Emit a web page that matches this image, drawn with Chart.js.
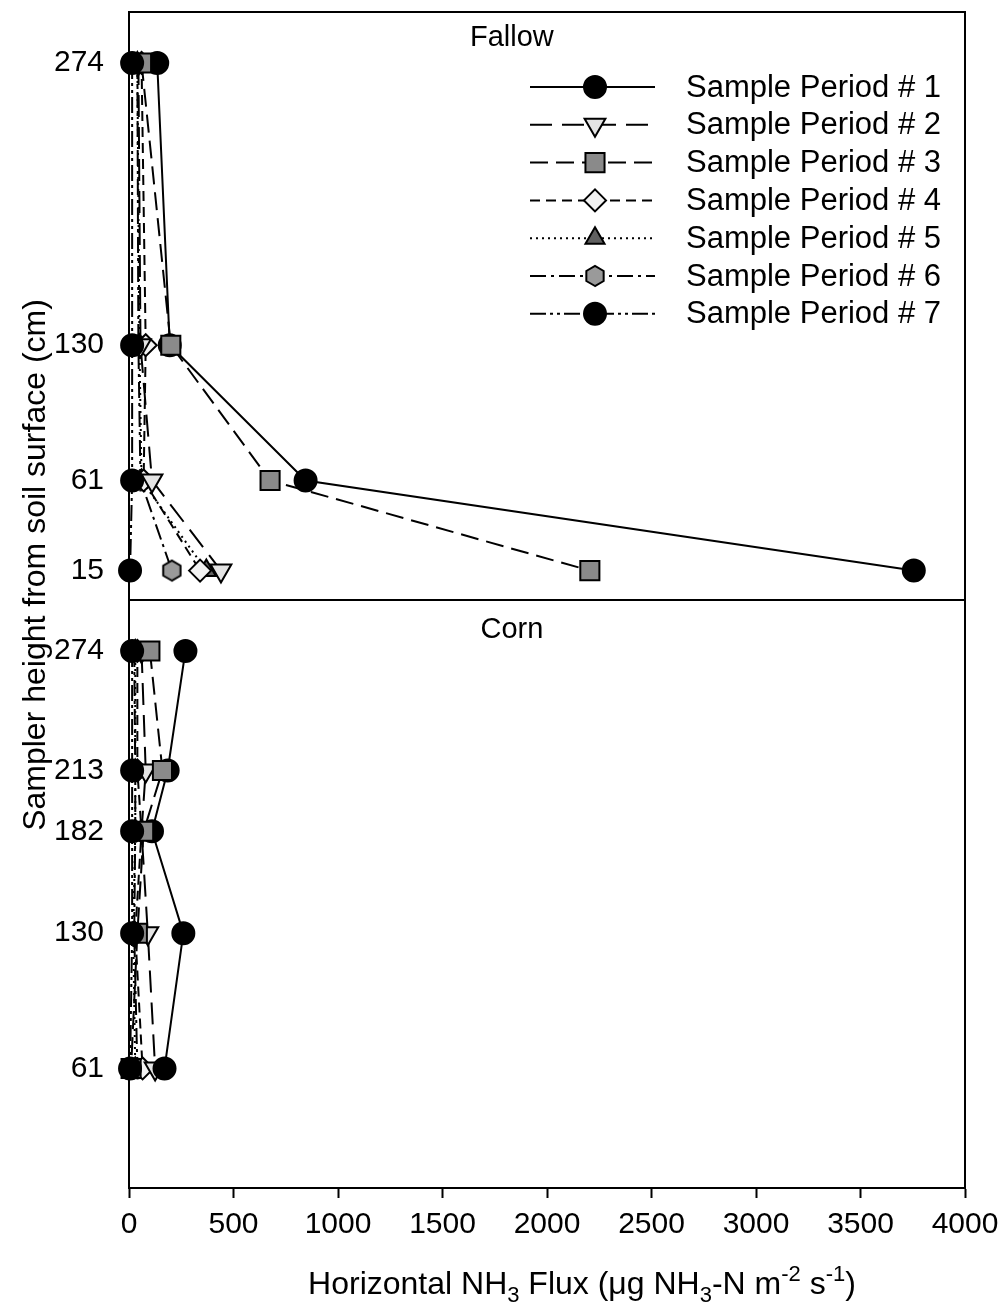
<!DOCTYPE html>
<html>
<head>
<meta charset="utf-8">
<title>Horizontal NH3 flux profiles</title>
<script src="https://cdn.jsdelivr.net/npm/chart.js@4.4.0/dist/chart.umd.min.js"></script>
<style>
    html, body { margin: 0; padding: 0; background: #fff; }
    canvas { display: block; }
</style>
</head>
<body>
<canvas id="grafico-flux" width="1003" height="1306"></canvas>
<script>
// Sampler heights (cm) for each site
const fallowHeights = [274, 130, 61, 15];
const cornHeights = [274, 213, 182, 130, 61];

// Horizontal NH3 flux, one array per sample period, same order as the heights
const fallowP1 = [135, 195, 845, 3755];
const fallowP2 = [45, 55, 110, 440];
const fallowP3 = [60, 200, 675, 2205];
const fallowP4 = [60, 80, 70, 340];
const fallowP5 = [40, 50, 60, 370];
const fallowP6 = [40, 45, 55, 205];
const fallowP7 = [15, 15, 15, 5];

const cornP1 = [270, 185, 110, 260, 170];
const cornP2 = [60, 80, 60, 90, 125];
const cornP3 = [100, 160, 70, 40, 10];
const cornP4 = [40, 40, 60, 30, 65];
const cornP5 = [30, 30, 30, 20, 30];
const cornP6 = [25, 30, 30, 25, 40];
const cornP7 = [15, 15, 15, 15, 5];

const periods = ['Sample Period # 1', 'Sample Period # 2', 'Sample Period # 3', 'Sample Period # 4',
                 'Sample Period # 5', 'Sample Period # 6', 'Sample Period # 7'];
const xTicks = [0, 500, 1000, 1500, 2000, 2500, 3000, 3500, 4000];

const fallowSeries = [fallowP1, fallowP2, fallowP3, fallowP4, fallowP5, fallowP6, fallowP7];
const cornSeries = [cornP1, cornP2, cornP3, cornP4, cornP5, cornP6, cornP7];

// Look of each period: line dash, marker, fill
const FONT = "'Liberation Sans', Arial, sans-serif";

function hexagono(r, cor) {
    const c = document.createElement('canvas');
    const s = Math.ceil(2 * r + 4);
    c.width = s; c.height = s;
    const g = c.getContext('2d');
    g.beginPath();
    for (let k = 0; k < 6; k++) {
        const a = Math.PI / 2 + k * Math.PI / 3;
        g.lineTo(s / 2 + r * Math.cos(a), s / 2 + r * Math.sin(a));
    }
    g.closePath();
    g.fillStyle = cor;
    g.fill();
    g.lineWidth = 2;
    g.strokeStyle = '#000';
    g.stroke();
    return c;
}

const dashes = [[], [22, 10], [18, 8], [10, 6], [2, 4], [16, 5, 3, 5], [16, 4, 3, 4, 3, 4]];
const markers = ['circle', 'triangle', 'rect', 'rectRot', 'triangle', hexagono(10, '#9a9a9a'), 'circle'];
const rotations = [0, 180, 0, 0, 0, 0, 0];
const radii = [11, 12, 13.5, 11, 11, 10, 11];
const fills = ['#000', '#e4e4e4', '#8a8a8a', '#f2f2f2', '#606060', '#9a9a9a', '#000'];
// lower order is drawn on top
const ordem = [3, 4, 1, 5, 6, 7, 0];

function serie(flux, heights, i, axis) {
    return {
        label: periods[i],
        data: heights.map((h, k) => ({ x: flux[k], y: h })),
        yAxisID: axis,
        order: ordem[i],
        showLine: true,
        borderColor: '#000',
        borderWidth: 2,
        borderDash: dashes[i],
        pointStyle: markers[i],
        pointRotation: rotations[i],
        pointRadius: radii[i],
        pointHoverRadius: radii[i],
        pointBackgroundColor: fills[i],
        pointBorderColor: '#000',
        pointBorderWidth: 2,
        clip: false,
        tension: 0
    };
}

const datasets = [];
fallowSeries.forEach((s, i) => datasets.push(serie(s, fallowHeights, i, 'yTop')));
cornSeries.forEach((s, i) => datasets.push(serie(s, cornHeights, i, 'yBottom')));

// Panel frames, titles, legend and axis titles
const extras = {
    id: 'extras',
    beforeDatasetsDraw(chart) {
        const c = chart.ctx, a = chart.chartArea;
        c.save();
        c.strokeStyle = '#000';
        c.lineWidth = 2;
        c.setLineDash([]);
        ['yTop', 'yBottom'].forEach(id => {
            const s = chart.scales[id];
            c.strokeRect(a.left, s.top, a.right - a.left, s.bottom - s.top);
        });
        c.restore();
    },
    afterDraw(chart) {
        const c = chart.ctx, a = chart.chartArea;
        const top = chart.scales.yTop, bot = chart.scales.yBottom;
        c.save();
        c.fillStyle = '#000';
        c.textBaseline = 'middle';
        c.textAlign = 'center';
        c.font = '29px ' + FONT;
        const cx = a.left + (a.right - a.left) * 0.458;
        c.fillText('Fallow', cx, top.top + 26);
        c.fillText('Corn', cx, bot.top + 30);

        // legend
        const lx0 = 530, lx1 = 655, lm = 595, tx = 686;
        c.textAlign = 'left';
        c.font = '31px ' + FONT;
        periods.forEach((p, i) => {
            const y = top.top + 75 + i * 37.8;
            c.strokeStyle = '#000';
            c.lineWidth = 2;
            c.setLineDash(dashes[i]);
            c.beginPath();
            c.moveTo(lx0, y);
            c.lineTo(lx1, y);
            c.stroke();
            c.setLineDash([]);
            c.fillStyle = fills[i];
            Chart.helpers.drawPoint(c, {
                pointStyle: markers[i], rotation: rotations[i], radius: radii[i], borderWidth: 2
            }, lm, y);
            c.fillStyle = '#000';
            c.fillText(p, tx, y + 1);
        });

        // y title
        c.save();
        c.translate(36, 565);
        c.rotate(-Math.PI / 2);
        c.textAlign = 'center';
        c.font = '32px ' + FONT;
        c.fillText('Sampler height from soil surface (cm)', 0, 0);
        c.restore();

        // x title with sub/superscripts
        const parts = [
            ['Horizontal NH', 0], ['3', 1], [' Flux (\u03bcg NH', 0], ['3', 1],
            ['-N m', 0], ['-2', -1], [' s', 0], ['-1', -1], [')', 0]
        ];
        const big = '32px ' + FONT, small = '22px ' + FONT;
        let w = 0;
        parts.forEach(([t, k]) => { c.font = k ? small : big; w += c.measureText(t).width; });
        let x = 582 - w / 2;
        const yb = 1294;
        c.textBaseline = 'alphabetic';
        c.textAlign = 'left';
        parts.forEach(([t, k]) => {
            c.font = k ? small : big;
            c.fillText(t, x, yb + (k === 1 ? 8 : k === -1 ? -13 : 0));
            x += c.measureText(t).width;
        });
        c.restore();
    }
};

const tickFont = { family: FONT, size: 30 };

const yBase = (heights) => ({
    type: 'linear',
    position: 'left',
    stack: 'paineis',
    stackWeight: 1,
    min: 0,
    max: 300,
    afterBuildTicks: s => { s.ticks = heights.map(v => ({ value: v })); },
    afterFit: s => { s.width = 129; s.paddingTop = 0; s.paddingBottom = 0; },
    grid: { display: true, drawOnChartArea: false, drawTicks: false },
    border: { display: true, color: '#000', width: 2 },
    ticks: { color: '#000', font: tickFont, padding: 25, callback: v => String(v) }
});

new Chart(document.getElementById('grafico-flux').getContext('2d'), {
    type: 'scatter',
    data: { datasets: datasets },
    options: {
        responsive: false,
        animation: false,
        layout: { autoPadding: false, padding: { top: 12, right: 38, left: 0, bottom: 0 } },
        plugins: { legend: { display: false }, tooltip: { enabled: false } },
        scales: {
            x: {
                type: 'linear',
                min: 0,
                max: 4000,
                afterBuildTicks: s => { s.ticks = xTicks.map(v => ({ value: v })); },
                afterFit: s => { s.height = 118; s.paddingLeft = 0; s.paddingRight = 0; },
                grid: { display: true, drawOnChartArea: false, drawTicks: true, tickLength: 10, tickColor: '#000', tickWidth: 2 },
                border: { display: true, color: '#000', width: 2 },
                ticks: { color: '#000', font: { family: FONT, size: 30 }, padding: 9, maxRotation: 0, callback: v => String(v) }
            },
            yBottom: Object.assign(yBase(cornHeights), { weight: 0 }),
            yTop: Object.assign(yBase(fallowHeights), { weight: 1 })
        }
    },
    plugins: [extras]
});
</script>
</body>
</html>
